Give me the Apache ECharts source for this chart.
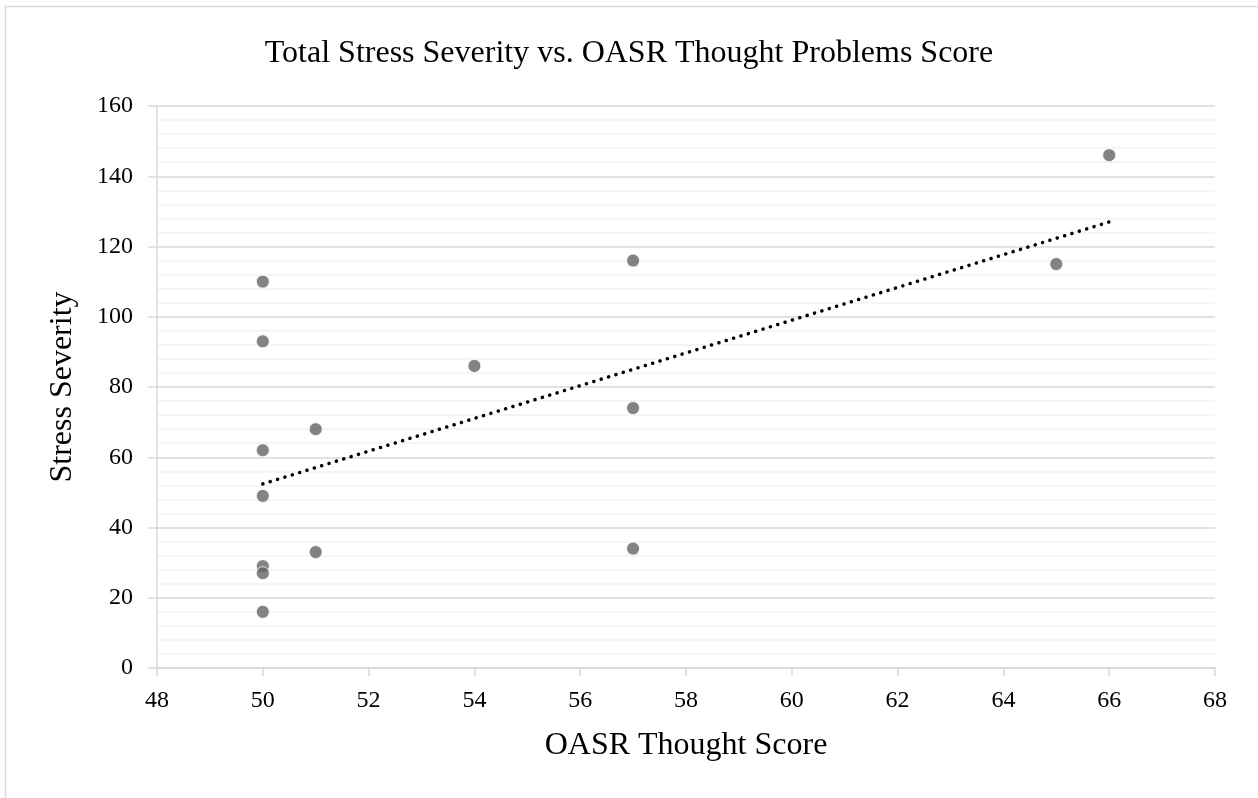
<!DOCTYPE html>
<html>
<head>
<meta charset="utf-8">
<script src="https://cdn.jsdelivr.net/npm/echarts@6/dist/echarts.min.js"></script>
<style>
  html, body { margin: 0; padding: 0; background: #fff; }
  #chart { width: 1258px; height: 798px; }
</style>
</head>
<body>
<div id="chart"></div>
<script>
// OASR thought score (x) vs total stress severity (y)
const thoughtScore = [50, 50, 50, 50, 50, 50, 50, 51, 51, 54, 57, 57, 57, 65, 66];
const stressSeverity = [110, 93, 62, 49, 29, 27, 16, 68, 33, 86, 116, 74, 34, 115, 146];

// dotted trendline end points
const trendX = [50, 66];
const trendY = [52.4, 127];

const FONT = '"Liberation Serif", "Times New Roman", serif';
const GRID_MAJOR = '#d9d9d9';
const GRID_MINOR = '#f2f2f2';

const chart = echarts.init(document.getElementById('chart'));

const option = {
  animation: false,
  backgroundColor: '#fff',
  textStyle: { fontFamily: FONT },
  title: {
    text: 'Total Stress Severity vs. OASR Thought Problems Score',
    left: 'center',
    top: 33,
    textStyle: { fontFamily: FONT, fontSize: 32, fontWeight: 'normal', color: '#000' }
  },
  graphic: [
    {
      type: 'rect',
      left: 3,
      top: 4,
      shape: { width: 1400, height: 900 },
      style: { fill: 'none', stroke: '#d9d9d9', lineWidth: 1.5 },
      silent: true
    }
  ],
  grid: { left: 157, right: 43, top: 106, bottom: 130 },
  xAxis: {
    type: 'value',
    min: 48,
    max: 68,
    interval: 2,
    name: 'OASR Thought Score',
    nameLocation: 'middle',
    nameGap: 62,
    nameTextStyle: { fontFamily: FONT, fontSize: 32, color: '#000' },
    axisLine: { show: true, lineStyle: { color: GRID_MAJOR, width: 1.5 } },
    axisTick: { show: true, length: 8, lineStyle: { color: GRID_MAJOR, width: 1.5 } },
    axisLabel: { fontFamily: FONT, fontSize: 24, color: '#000', margin: 21 },
    splitLine: { show: false }
  },
  yAxis: {
    type: 'value',
    min: 0,
    max: 160,
    interval: 20,
    name: 'Stress Severity',
    nameLocation: 'middle',
    nameGap: 78,
    nameTextStyle: { fontFamily: FONT, fontSize: 32, color: '#000' },
    axisLine: { show: true, lineStyle: { color: GRID_MAJOR, width: 1.5 } },
    axisTick: { show: true, length: 9, lineStyle: { color: GRID_MAJOR, width: 1.5 } },
    axisLabel: { fontFamily: FONT, fontSize: 24, color: '#000', margin: 24 },
    splitLine: { show: true, lineStyle: { color: GRID_MAJOR, width: 1.5 } },
    minorTick: { show: false, splitNumber: 5 },
    minorSplitLine: { show: true, lineStyle: { color: GRID_MINOR, width: 1.5 } }
  },
  series: [
    {
      type: 'line',
      data: trendX.map((x, i) => [x, trendY[i]]),
      symbol: 'none',
      silent: true,
      z: 3,
      lineStyle: { color: '#000', width: 3.5, type: [0.1, 7.6], cap: 'round' }
    },
    {
      type: 'scatter',
      data: thoughtScore.map((x, i) => [x, stressSeverity[i]]),
      symbol: 'circle',
      symbolSize: 13,
      z: 4,
      itemStyle: { color: '#646464', borderColor: '#fff', borderWidth: 1 }
    }
  ]
};

chart.setOption(option);
</script>
</body>
</html>
